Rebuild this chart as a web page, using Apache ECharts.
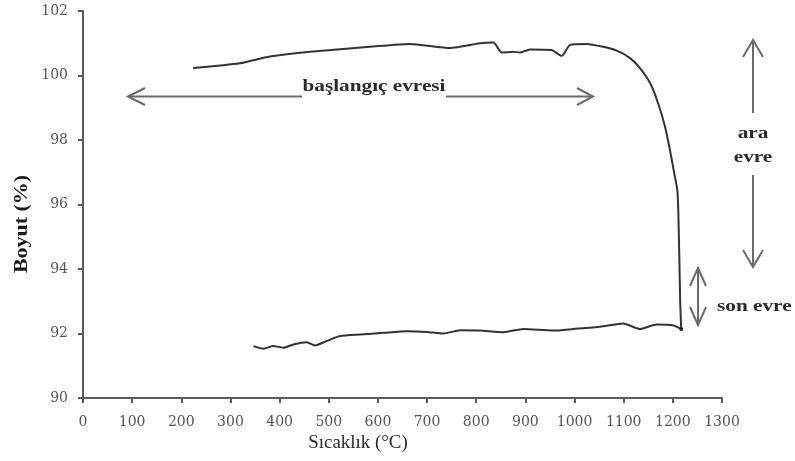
<!DOCTYPE html>
<html>
<head>
<meta charset="utf-8">
<script src="https://cdn.jsdelivr.net/npm/echarts@6/dist/echarts.min.js"></script>
<style>html,body{margin:0;padding:0;background:#fff}#c{width:795px;height:461px}</style>
</head>
<body>
<div id="c"></div>
<script>
// Heating (upper) branch, temperature °C
const upperTemp = [224, 319, 380, 462, 584, 665, 747, 808, 835, 852, 875, 889, 909, 953, 974, 991, 1025, 1058, 1086, 1113, 1133, 1154, 1170, 1184, 1194, 1204, 1209, 1211, 1213, 1215, 1217];
const upperSize = [100.23, 100.38, 100.59, 100.74, 100.89, 100.98, 100.85, 101.0, 101.02, 100.71, 100.74, 100.71, 100.81, 100.79, 100.61, 100.95, 100.98, 100.89, 100.77, 100.54, 100.23, 99.76, 99.14, 98.42, 97.70, 96.87, 96.46, 95.84, 94.50, 92.95, 92.14];
// Cooling (lower) branch, back from the peak temperature
const lowerTemp = [1201, 1167, 1133, 1099, 1052, 998, 957, 896, 855, 808, 767, 733, 699, 659, 611, 564, 523, 496, 472, 455, 428, 408, 387, 367, 347];
const lowerSize = [92.25, 92.28, 92.14, 92.31, 92.21, 92.14, 92.09, 92.14, 92.04, 92.09, 92.10, 92.0, 92.05, 92.07, 92.02, 91.97, 91.92, 91.77, 91.63, 91.73, 91.66, 91.56, 91.61, 91.53, 91.61];
const xTicks = {min: 0, max: 1300, step: 100};
const yTicks = {min: 90, max: 102, step: 2};

const curve = [];
for (let i = 0; i < upperTemp.length; i++) curve.push([upperTemp[i], upperSize[i]]);
for (let i = 0; i < lowerTemp.length; i++) curve.push([lowerTemp[i], lowerSize[i]]);

const serif = '"Liberation Serif", "DejaVu Serif", serif';
const tickFont = '"DejaVu Serif", "Liberation Serif", serif';
const axisColor = '#5a5a5a';
const arrowStyle = {stroke: '#6a6a6a', lineWidth: 2, fill: null};
function seg(x1, y1, x2, y2) { return {type: 'line', shape: {x1, y1, x2, y2}, style: arrowStyle, silent: true}; }
function head(tx, ty, ax1, ay1, ax2, ay2) {
  return {type: 'polyline', shape: {points: [[ax1, ay1], [tx, ty], [ax2, ay2]]}, style: arrowStyle, silent: true};
}
function txt(x, y, text, align) {
  return {type: 'text', x, y, scaleX: 1.25,
    style: {text, font: 'bold 17px ' + serif, fill: '#2a2a2a', textAlign: align || 'center', textVerticalAlign: 'middle'}, silent: true};
}

const chart = echarts.init(document.getElementById('c'), null, {renderer: 'canvas'});
chart.setOption({
  animation: false,
  backgroundColor: '#fff',
  grid: {left: 83, right: 73, top: 11, bottom: 63},
  xAxis: {
    type: 'value', min: xTicks.min, max: xTicks.max, interval: xTicks.step,
    axisLine: {lineStyle: {color: axisColor, width: 2}},
    axisTick: {show: true, length: 5, lineStyle: {color: axisColor, width: 2}},
    axisLabel: {color: '#555', fontFamily: tickFont, fontSize: 14, margin: 17, formatter: v => String(v)},
    splitLine: {show: false}
  },
  yAxis: {
    type: 'value', min: yTicks.min, max: yTicks.max, interval: yTicks.step,
    axisLine: {show: true, lineStyle: {color: axisColor, width: 2}},
    axisTick: {show: true, length: 5, lineStyle: {color: axisColor, width: 2}},
    axisLabel: {color: '#555', fontFamily: tickFont, fontSize: 14, margin: 15, formatter: v => String(v)},
    splitLine: {show: false}
  },
  series: [{
    type: 'line', data: curve, showSymbol: false, smooth: 0.2,
    lineStyle: {color: '#333', width: 2},
    markPoint: {symbol: 'circle', symbolSize: 4, itemStyle: {color: '#222'}, label: {show: false},
      data: [{coord: [upperTemp[upperTemp.length - 1], upperSize[upperSize.length - 1]]}]}
  }],
  graphic: [
    // y axis name
    {type: 'text', x: 22, y: 224, rotation: Math.PI / 2, scaleX: 1.22,
      style: {text: 'Boyut (%)', font: 'bold 18px ' + serif, fill: '#1a1a1a', textAlign: 'center', textVerticalAlign: 'middle'}, silent: true},
    // x axis name
    {type: 'text', x: 358, y: 443, scaleX: 1.05,
      style: {text: 'Sıcaklık (°C)', font: '18px ' + serif, fill: '#2a2a3a', textAlign: 'center', textVerticalAlign: 'middle'}, silent: true},
    // başlangıç evresi arrow
    seg(128, 96.5, 302, 96.5), seg(446, 96.5, 593, 96.5),
    head(128, 96.5, 145, 88, 145, 105), head(593, 96.5, 577, 88, 577, 105),
    txt(374, 87, 'başlangıç evresi'),
    // ara evre arrow
    seg(753, 41, 753, 113), seg(753, 175, 753, 266),
    head(753, 40, 743, 57, 763, 57), head(753, 267, 743, 250, 763, 250),
    txt(753, 134, 'ara'), txt(753, 158, 'evre'),
    // son evre arrow
    seg(698, 269, 698, 324),
    head(698, 268, 690, 286, 706, 286), head(698, 325, 690, 307, 706, 307),
    txt(717, 307, 'son evre', 'left')
  ]
});
</script>
</body>
</html>
